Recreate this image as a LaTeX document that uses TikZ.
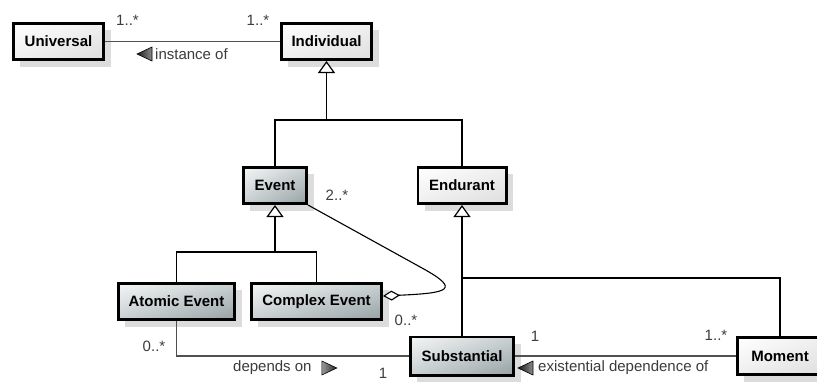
\documentclass[tikz,border=0pt]{standalone}
\usepackage{fontspec}
\setmainfont{Liberation Sans}
\usetikzlibrary{arrows.meta,shadows,shadings}

\definecolor{edgegrey}{HTML}{505050}
\definecolor{labelgrey}{HTML}{3C3C3C}
\definecolor{shadowgrey}{HTML}{DCDCDC}
\definecolor{darkfill}{HTML}{96A1A4}
\definecolor{midfill}{HTML}{C9D0D2}
\definecolor{paperfill}{HTML}{F4F6F6}
\definecolor{lightfill}{HTML}{DEDEDE}
\definecolor{lightmid}{HTML}{EFEFEF}

\tikzset{
  classbox/.style={draw=black, line width=2.6pt, minimum height=36.4pt,
    inner sep=0pt, font=\fontsize{15}{17}\selectfont\bfseries,
    drop shadow={shadow xshift=7pt, shadow yshift=-7pt, fill=shadowgrey, opacity=1}},
  plainclass/.style={classbox, upper left=white, upper right=lightmid,
    lower left=lightmid, lower right=lightfill},
  shadedclass/.style={classbox, upper left=paperfill, upper right=midfill,
    lower left=midfill, lower right=darkfill},
  lbl/.style={font=\fontsize{15}{17}\selectfont, text=labelgrey, inner sep=0pt},
  assoc/.style={draw=edgegrey, line width=1.3pt},
  genline/.style={draw=black, line width=1.2pt},
  gen/.style={genline, -{Triangle[length=12pt, width=17pt, fill=white]}},
  agg/.style={draw=black, line width=1.1pt,
    {Diamond[length=17pt, width=10pt, fill=white]}-},
  readtri/.style={draw=black, line width=0.6pt, left color=black!90, right color=black!45},
  readtriR/.style={draw=black, line width=0.6pt, left color=black!40, right color=black!85},
}

\begin{document}
\begin{tikzpicture}[x=1pt, y=-1pt]
  \useasboundingbox (0,0) rectangle (817,381);
  \fill[white] (0,0) rectangle (817,381);

  % classes
  \node[plainclass,  minimum width=90.4pt]  (Universal)   at (58.5,41.5)  {Universal};
  \node[plainclass,  minimum width=90.4pt]  (Individual)  at (326.5,41.5) {Individual};
  \node[shadedclass, minimum width=63.4pt]  (Event)       at (275,185.5)  {Event};
  \node[plainclass,  minimum width=88.4pt]  (Endurant)    at (462,185.5)  {Endurant};
  \node[shadedclass, minimum width=116.4pt] (Atomic)      at (176.5,301.5){Atomic Event};
  \node[shadedclass, minimum width=130.4pt] (Complex)     at (316.5,301.5){Complex Event};
  \node[shadedclass, minimum width=103.4pt, minimum height=38.4pt] (Substantial) at (462,356) {Substantial};
  \node[plainclass,  minimum width=85.4pt, minimum height=37.4pt]  (Moment)      at (780,356) {Moment};

  % generalisation junctions
  \coordinate (jInd) at (326.5,120);
  \coordinate (jEvt) at (275,252);
  \coordinate (jEnd) at (462,278);

  % Individual specialisations
  \draw[genline] (Event.north) |- (jInd) -| (Endurant.north);
  \draw[gen] (jInd) -- (Individual.south);

  % Event specialisations
  \draw[genline] (Atomic.north) |- (jEvt) -| (Complex.north);
  \draw[gen] (jEvt) -- (Event.south);

  % Endurant specialisations
  \draw[gen] (Substantial.north) -- (Endurant.south);
  \draw[genline] (jEnd) -| (Moment.north);

  % associations
  \draw[assoc] (Universal) -- (Individual);
  \draw[assoc] (Atomic.south) |- (Substantial.west);
  \draw[assoc] (Substantial) -- (Moment);

  % aggregation of events into a complex event
  \coordinate (aggBend) at (422,268);
  \draw[agg] ([yshift=5.5pt]Complex.east) .. controls (448,293) and (462,290) .. (aggBend) -- (Event.south east);

  % multiplicities
  \node[lbl] (mUniv)  at (127.5,20) {1..*};
  \node[lbl] (mInd)   at (258,20)   {1..*};
  \node[lbl] (mEvt)   at (337,195)  {2..*};
  \node[lbl] (mCpx)   at (406,320)  {0..*};
  \node[lbl] (mAtom)  at (154,346)  {0..*};
  \node[lbl] (mSubB)  at (383,373)  {1};
  \node[lbl] (mSubT)  at (535,336)  {1};
  \node[lbl] (mMom)   at (716,335)  {1..*};

  % association names with reading direction
  \node[lbl, anchor=west] (instLbl) at (155,54) {instance of};
  \shade[readtri] ([xshift=-3pt, yshift=7pt]instLbl.west) -- ++(0,14) -- ++(-15,-7) -- cycle;

  \node[lbl, anchor=west] (depLbl) at (233,368) {depends on};
  \shade[readtriR] ([xshift=10pt, yshift=7pt]depLbl.east) -- ++(0,14) -- ++(15,-7) -- cycle;

  \node[lbl, anchor=west] (exLbl) at (538,368) {existential dependence of};
  \shade[readtri] ([xshift=-5pt, yshift=7pt]exLbl.west) -- ++(0,14) -- ++(-15,-7) -- cycle;
\end{tikzpicture}
\end{document}
